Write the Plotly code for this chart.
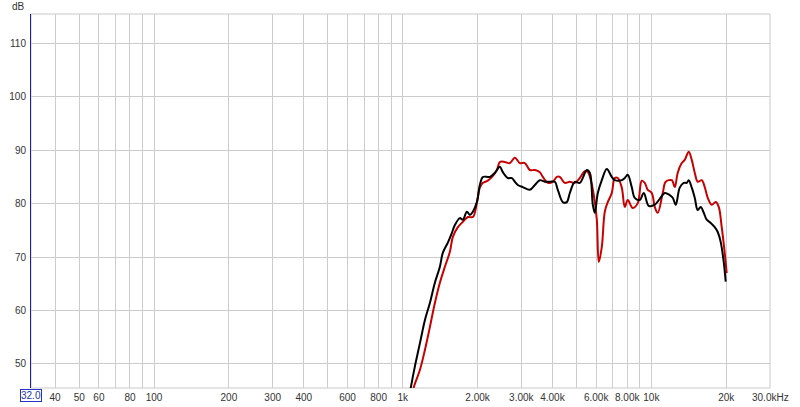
import plotly.graph_objects as go

# Black trace (frequency Hz, SPL dB)
black_freq = [1068, 1079, 1119, 1173, 1228, 1286, 1347, 1411, 1450, 1519, 1576, 1621, 1698, 1746, 1812,
              1863, 1915, 1987, 2043, 2101, 2242, 2348, 2459, 2528, 2647, 2748, 2825, 2904, 3042, 3245,
              3400, 3561, 3729, 3905, 4090, 4205, 4404, 4571, 4700, 4921, 5155, 5501, 5655, 5815, 5924,
              6090, 6320, 6618, 6932, 7127, 7603, 7817, 8036, 8339, 8574, 8981, 9322, 9762, 10320, 10809,
              11320, 11857, 12190, 12534, 13006, 13498, 13878, 14137, 14535, 14944, 15365, 15798, 16242,
              16699, 17329, 17982, 18489, 19008, 19543, 19908]
black_db = [44.5, 45.7, 49.5, 53.9, 58.2, 61.4, 65.2, 68.2, 70.8, 72.7, 74.5, 76.0, 77.3, 77.0, 78.5,
            77.9, 78.5, 80.3, 83.5, 85.0, 85.0, 85.8, 86.9, 85.9, 84.8, 84.8, 84.1, 83.5, 83.1, 82.6,
            83.5, 84.4, 84.1, 84.1, 84.1, 82.6, 80.3, 80.3, 82.0, 84.1, 83.9, 86.3, 85.8, 79.8, 78.3,
            82.0, 84.4, 86.5, 85.0, 84.4, 84.4, 84.8, 85.4, 83.1, 81.1, 80.7, 82.0, 79.6, 79.8, 80.9,
            82.0, 81.6, 81.1, 79.8, 83.0, 83.9, 83.9, 84.4, 83.0, 81.1, 78.8, 79.4, 78.3,
            77.0, 76.4, 75.6, 74.7, 72.8, 69.1, 65.4]

# Red trace (frequency Hz, SPL dB)
red_freq = [1099, 1109, 1173, 1228, 1286, 1347, 1411, 1478, 1548, 1591, 1667, 1746, 1829, 1915, 1987,
            2043, 2101, 2200, 2305, 2392, 2459, 2575, 2697, 2825, 2958, 3099, 3245, 3400, 3561, 3661,
            3834, 4015, 4167, 4283, 4486, 4700, 4921, 5155, 5400, 5553, 5708, 5869, 6034, 6146, 6320,
            6497, 6680, 6932, 7127, 7327, 7603, 7817, 8036, 8416, 8816, 9149, 9407, 9672, 10037, 10320,
            10610, 11112, 11425, 12078, 12418, 12767, 13248, 13623, 14137, 14535, 14944, 15365, 15944,
            16393, 16854, 17490, 18150, 18661, 19185, 19725, 20093]
red_db = [44.8, 45.7, 48.9, 52.6, 56.9, 61.4, 65.2, 68.2, 71.0, 73.8, 75.6, 76.6, 77.5, 77.5, 80.1,
          83.0, 83.9, 84.3, 85.2, 86.3, 87.8, 87.8, 87.6, 88.6, 87.6, 87.6, 86.3, 86.3, 85.9, 85.0,
          83.9, 84.1, 85.0, 85.0, 83.9, 84.1, 83.9, 84.8, 86.1, 85.9, 84.4, 81.6, 77.0, 69.1, 71.9,
          78.5, 80.3, 82.0, 84.8, 84.8, 83.0, 79.4, 80.7, 79.2, 80.1, 84.3, 83.9, 82.6, 82.0, 79.4,
          78.3, 82.0, 84.1, 84.4, 83.1, 85.8, 87.6, 88.2, 89.7, 88.2, 85.8, 84.1, 84.4,
          83.1, 81.1, 79.8, 80.3, 79.4, 75.6, 70.8, 67.0]

# Axis ticks
grid_freqs = [40, 50, 60, 70, 80, 90, 100, 200, 300, 400, 500, 600, 700, 800, 900, 1000,
              2000, 3000, 4000, 5000, 6000, 7000, 8000, 9000, 10000, 20000]
grid_labels = ["40", "50", "60", "", "80", "", "100", "200", "300", "400", "", "600", "", "800", "",
               "1k", "2.00k", "3.00k", "4.00k", "", "6.00k", "", "8.00k", "", "10k", "20k"]
y_ticks = [50, 60, 70, 80, 90, 100, 110]

FONT = "Liberation Sans, Arial, sans-serif"

fig = go.Figure()
fig.add_trace(go.Scatter(x=red_freq, y=red_db, mode="lines",
                         line=dict(color="#c80000", width=2), line_shape="spline"))
fig.add_trace(go.Scatter(x=black_freq, y=black_db, mode="lines",
                         line=dict(color="#000000", width=2), line_shape="spline"))

fig.update_layout(
    width=800, height=407,
    margin=dict(l=31, r=30, t=14, b=19),
    paper_bgcolor="white", plot_bgcolor="white",
    showlegend=False,
    font=dict(family=FONT, size=10, color="#333333"),
    xaxis=dict(type="log", range=[1.50515, 4.47712], automargin=False,
               tickvals=grid_freqs, ticktext=grid_labels, tickangle=0,
               showgrid=True, gridcolor="#cccccc", gridwidth=1,
               zeroline=False, showline=False, ticks="", ticklabelstandoff=2,
               tickfont=dict(family=FONT, size=10, color="#333333")),
    yaxis=dict(range=[45.5, 115.5], tickvals=y_ticks, automargin=False,
               showgrid=True, gridcolor="#cccccc", gridwidth=1,
               zeroline=False, showline=True, linecolor="#1c1ca8", linewidth=1,
               ticks="", ticklabelstandoff=2,
               tickfont=dict(family=FONT, size=10, color="#333333")),
    shapes=[dict(type="rect", xref="paper", yref="paper", x0=0, x1=1, y0=0, y1=1,
                 line=dict(color="#c8c8c8", width=1), layer="below")],
    annotations=[
        dict(text="dB", xref="paper", yref="paper", x=-0.006, y=1.0, xanchor="right", yanchor="bottom",
             showarrow=False, font=dict(family=FONT, size=10, color="#333333")),
        dict(text="32.0", xref="paper", yref="paper", x=0, y=0, xanchor="center", yanchor="top",
             yshift=-1, showarrow=False, bordercolor="#2233cc", borderwidth=1, borderpad=0,
             font=dict(family=FONT, size=10, color="#2233aa")),
        dict(text="30.0kHz", xref="paper", yref="paper", x=1, y=0, xanchor="center", yanchor="top",
             yshift=-2, showarrow=False, font=dict(family=FONT, size=10, color="#333333")),
    ],
)

fig.write_html("out.html", config={"displayModeBar": False},
               post_script="document.body.style.margin='0';document.body.style.overflow='hidden';")
